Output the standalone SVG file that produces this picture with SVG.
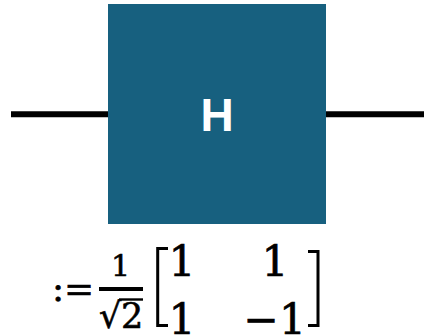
<svg xmlns="http://www.w3.org/2000/svg" width="424" height="336" viewBox="0 0 424 336">
<style>
.wire{stroke:#000;stroke-width:6;fill:none}
.gate{fill:#17607F}
.glabel{font-family:"Liberation Sans",Arial,sans-serif;font-weight:bold;font-size:46px;fill:#fff;text-anchor:middle}
.m{font-family:"DejaVu Serif","Liberation Serif",serif;fill:#000;stroke:#000;stroke-width:0.6}
.br{stroke:#000;stroke-width:3;fill:none;stroke-linecap:butt;stroke-linejoin:miter}
</style>
<rect width="424" height="336" fill="#fff"/>
<g id="connectors">
<line class="wire" x1="11" y1="114.3" x2="108" y2="114.3"/>
<line class="wire" x1="326" y1="114.3" x2="424" y2="114.3"/>
</g>
<g id="gate-H">
<rect class="gate" x="108" y="4" width="218" height="220"/>
<text class="glabel" x="217" y="131">H</text>
</g>
<g id="definition">
<text class="m" x="52" y="301" font-size="36">:</text>
<text class="m" x="64" y="301" font-size="36">=</text>
<text class="m" x="120.5" y="276" font-size="30" text-anchor="middle">1</text>
<rect x="99" y="287" width="44" height="4" fill="#000"/>
<text class="m" x="99" y="328" font-size="35">√</text>
<text class="m" x="121" y="328" font-size="35">2</text>
<line x1="119" y1="299.5" x2="143" y2="299.5" stroke="#000" stroke-width="2.4"/>
<polyline class="br" points="168,248.5 157.7,248.5 157.7,325.5 168,325.5"/>
<polyline class="br" points="308,251.5 318,251.5 318,325.5 308,325.5"/>
<text class="m" x="182" y="276" font-size="42.5" text-anchor="middle">1</text>
<text class="m" x="275" y="276" font-size="42.5" text-anchor="middle">1</text>
<text class="m" x="182" y="334" font-size="42.5" text-anchor="middle">1</text>
<text class="m" x="292.5" y="334" font-size="42.5" text-anchor="middle">1</text>
<text class="m" x="261" y="334" font-size="42.5" text-anchor="middle">−</text>
</g>
</svg>
